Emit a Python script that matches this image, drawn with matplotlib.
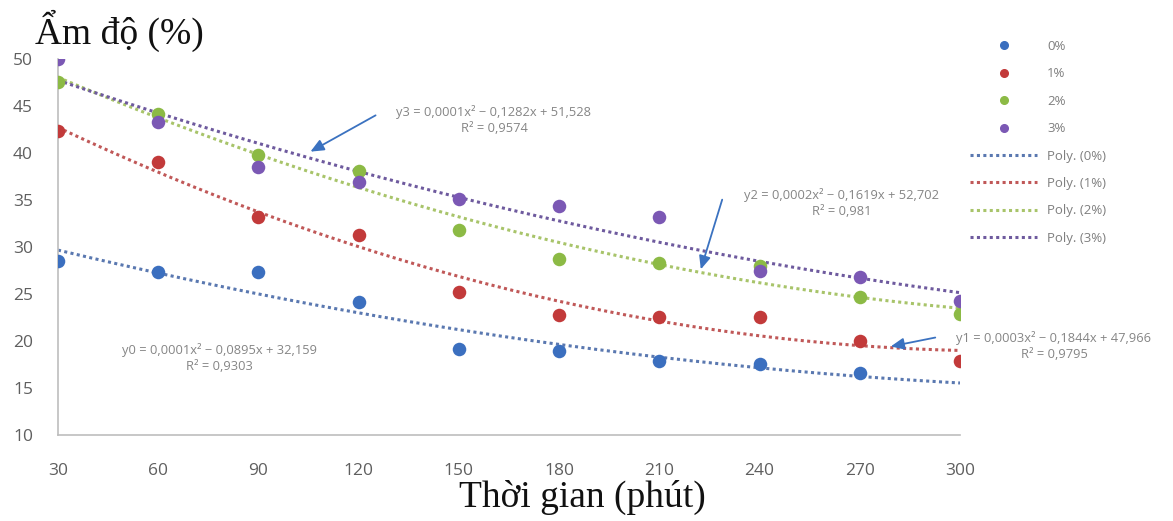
import numpy as np
import matplotlib
matplotlib.use("Agg")
import matplotlib.pyplot as plt
from matplotlib.lines import Line2D
from matplotlib.patches import FancyArrowPatch

# ---- data ----
time_min = [30, 60, 90, 120, 150, 180, 210, 240, 270, 300]
s0 = [28.5, 27.3, 27.3, 24.2, 19.1, 18.9, 17.9, 17.6, 16.6, np.nan]
s1 = [42.3, 39.0, 33.2, 31.3, 25.2, 22.8, 22.5, 22.5, 20.0, 17.9]
s2 = [47.6, 44.2, 39.8, 38.1, 31.8, 28.7, 28.3, 28.0, 24.7, 22.9]
s3 = [50.0, 43.3, 38.5, 36.9, 35.1, 34.4, 33.2, 27.4, 26.8, 24.3]
series_labels = ["0%", "1%", "2%", "3%"]
trend_labels = ["Poly. (0%)", "Poly. (1%)", "Poly. (2%)", "Poly. (3%)"]
y_ticks = [10, 15, 20, 25, 30, 35, 40, 45, 50]
eq_texts = [
    "y0 = 0,0001x² − 0,0895x + 32,159\nR² = 0,9303",
    "y1 = 0,0003x² − 0,1844x + 47,966\nR² = 0,9795",
    "y2 = 0,0002x² − 0,1619x + 52,702\nR² = 0,981",
    "y3 = 0,0001x² − 0,1282x + 51,528\nR² = 0,9574",
]

colors = ["#3b6fbf", "#c23a3a", "#8cba45", "#7b58b4"]
trend_colors = ["#5a78b0", "#c05858", "#a8c46a", "#6e5a9e"]

W, H = 1173, 521
fig = plt.figure(figsize=(W/100, H/100), dpi=100)
ax = fig.add_axes([58/W, 1-435/H, (960-58)/W, (435-59)/H])

x = np.array(time_min, dtype=float)
xs = np.linspace(x.min(), x.max(), 200)
all_series = [s0, s1, s2, s3]
for ys, tc in zip(all_series, trend_colors):
    y = np.array(ys, dtype=float)
    m = ~np.isnan(y)
    coef = np.polyfit(x[m], y[m], 2)
    ax.plot(xs, np.polyval(coef, xs), color=tc, lw=2.2,
            linestyle=(0, (1, 1.1)), dash_capstyle="butt", zorder=2)
for ys, c in zip(all_series, colors):
    ax.scatter(time_min, ys, s=95, color=c, zorder=3, linewidths=0)

ax.set_xlim(30, 300)
ax.set_ylim(10, 50)
ax.set_xticks(time_min)
ax.set_yticks(y_ticks)
for s in ["top", "right"]:
    ax.spines[s].set_visible(False)
for s in ["left", "bottom"]:
    ax.spines[s].set_color("#bdbdbd")
    ax.spines[s].set_linewidth(1.2)
ax.tick_params(length=0, labelsize=12.5, labelcolor="#5f5f5f")
ax.tick_params(axis="y", pad=18)
ax.tick_params(axis="x", pad=20)
for lab in ax.get_xticklabels() + ax.get_yticklabels():
    lab.set_fontfamily("Open Sans")

# titles
fig.text(35/W, 1-31/H, "Ẩm độ (%)", fontsize=27, family="Liberation Serif",
         ha="left", va="center", color="#111111")
fig.text(582/W, 1-497/H, "Thời gian (phút)", fontsize=27, family="Liberation Serif",
         ha="center", va="center", color="#111111")

# equations
tkw = dict(fontsize=9.3, color="#858585", family="Open Sans", ha="center",
           va="center", linespacing=1.3)
fig.text(219/W, 1-358/H, eq_texts[0], **tkw)
fig.text(1054/W, 1-346/H, eq_texts[1], **tkw)
fig.text(842/W, 1-203/H, eq_texts[2], **tkw)
fig.text(494/W, 1-120/H, eq_texts[3], **tkw)

def fpt(px, py):
    return (px/W, 1-py/H)
for (x0, y0), (x1, y1) in [((378, 114), (308, 153)),
                           ((723, 197), (700, 272)),
                           ((938, 337), (888, 347))]:
    fig.add_artist(FancyArrowPatch(
        fpt(x0, y0), fpt(x1, y1), transform=fig.transFigure,
        arrowstyle="-|>,head_length=0.8,head_width=0.35",
        color="#3b72c0", lw=1.3, mutation_scale=10))

# legend
handles = [Line2D([], [], marker="o", linestyle="none", color=c, markersize=5.5)
           for c in colors]
handles += [Line2D([], [], color=tc, lw=2.2, linestyle=(0, (1, 1.1)))
            for tc in trend_colors]
leg = fig.legend(handles, series_labels + trend_labels, loc="upper left",
                 bbox_to_anchor=(970/W, 1-40/H), frameon=False,
                 fontsize=9.5, handlelength=5.1, handletextpad=0.75,
                 labelspacing=1.09, borderaxespad=0, borderpad=0)
for t in leg.get_texts():
    t.set_color("#7f7f7f")
    t.set_fontfamily("Open Sans")

fig.savefig("out.png", dpi=100)
